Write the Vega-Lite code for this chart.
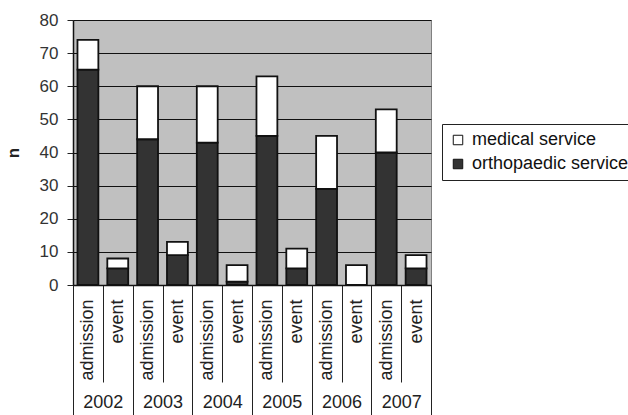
{
  "$schema": "https://vega.github.io/schema/vega-lite/v6.json",
  "width": 358,
  "height": 265,
  "autosize": {"type": "none"},
  "padding": {"left": 73, "top": 20, "right": 197, "bottom": 130},
  "background": "white",
  "config": {
    "view": {"fill": "#c0c0c0", "stroke": "#808080", "strokeWidth": 1},
    "font": "Liberation Sans"
  },
  "data": {
    "values": [
      {"category": "2002 admission", "year": "2002", "service": "orthopaedic service", "n": 65},
      {"category": "2002 admission", "year": "2002", "service": "medical service", "n": 9},
      {"category": "2002 event", "year": "2002", "service": "orthopaedic service", "n": 5},
      {"category": "2002 event", "year": "2002", "service": "medical service", "n": 3},
      {"category": "2003 admission", "year": "2003", "service": "orthopaedic service", "n": 44},
      {"category": "2003 admission", "year": "2003", "service": "medical service", "n": 16},
      {"category": "2003 event", "year": "2003", "service": "orthopaedic service", "n": 9},
      {"category": "2003 event", "year": "2003", "service": "medical service", "n": 4},
      {"category": "2004 admission", "year": "2004", "service": "orthopaedic service", "n": 43},
      {"category": "2004 admission", "year": "2004", "service": "medical service", "n": 17},
      {"category": "2004 event", "year": "2004", "service": "orthopaedic service", "n": 1},
      {"category": "2004 event", "year": "2004", "service": "medical service", "n": 5},
      {"category": "2005 admission", "year": "2005", "service": "orthopaedic service", "n": 45},
      {"category": "2005 admission", "year": "2005", "service": "medical service", "n": 18},
      {"category": "2005 event", "year": "2005", "service": "orthopaedic service", "n": 5},
      {"category": "2005 event", "year": "2005", "service": "medical service", "n": 6},
      {"category": "2006 admission", "year": "2006", "service": "orthopaedic service", "n": 29},
      {"category": "2006 admission", "year": "2006", "service": "medical service", "n": 16},
      {"category": "2006 event", "year": "2006", "service": "orthopaedic service", "n": 0},
      {"category": "2006 event", "year": "2006", "service": "medical service", "n": 6},
      {"category": "2007 admission", "year": "2007", "service": "orthopaedic service", "n": 40},
      {"category": "2007 admission", "year": "2007", "service": "medical service", "n": 13},
      {"category": "2007 event", "year": "2007", "service": "orthopaedic service", "n": 5},
      {"category": "2007 event", "year": "2007", "service": "medical service", "n": 4}
    ]
  },
  "layer": [
    {
      "mark": {"type": "bar", "width": {"band": 0.7}, "stroke": "#111111", "strokeWidth": 1.8},
      "encoding": {
        "x": {
          "field": "category", "type": "nominal", "sort": null,
          "scale": {"type": "band", "paddingInner": 0, "paddingOuter": 0},
          "axis": {
            "title": null, "orient": "bottom", "grid": false,
            "labelAngle": -90, "labelAlign": "right", "labelBaseline": "middle",
            "labelExpr": "split(datum.label, ' ')[1]",
            "tickBand": "extent", "tickSize": 97, "tickColor": "#222222", "tickWidth": 1,
            "labelPadding": -83, "labelFontSize": 18, "labelColor": "#222222",
            "labelFont": "Liberation Sans",
            "domainColor": "#111111", "domainWidth": 1.5
          }
        },
        "y": {
          "field": "n", "type": "quantitative", "stack": "zero",
          "scale": {"domain": [0, 80], "nice": false},
          "axis": {
            "values": [0, 10, 20, 30, 40, 50, 60, 70, 80],
            "title": "n", "titleFontSize": 17, "titleFontWeight": "bold", "titleColor": "#222222",
            "titlePadding": 17, "titleFont": "Liberation Sans",
            "labelFontSize": 17, "labelColor": "#333333", "labelFont": "Liberation Sans",
            "labelPadding": 9, "tickSize": 6, "tickColor": "#222222",
            "domainColor": "#111111", "domainWidth": 1.5,
            "grid": true, "gridColor": "#111111", "gridWidth": 1.2
          }
        },
        "color": {
          "field": "service", "type": "nominal",
          "scale": {"domain": ["medical service", "orthopaedic service"], "range": ["#ffffff", "#333333"]},
          "legend": {
            "title": null, "orient": "none", "legendX": 369, "legendY": 104,
            "strokeColor": "#222222", "fillColor": "#ffffff", "padding": 7,
            "symbolType": "square", "symbolSize": 90, "symbolStrokeColor": "#111111", "symbolStrokeWidth": 1,
            "labelFontSize": 18, "labelFont": "Liberation Sans", "labelColor": "#111111",
            "labelOffset": 5, "rowPadding": 6, "labelLimit": 300
          }
        },
        "order": {"field": "service", "sort": "descending"}
      }
    },
    {
      "mark": {"type": "point", "opacity": 0},
      "encoding": {
        "x": {
          "field": "year", "type": "nominal", "sort": null,
          "scale": {"type": "band", "paddingInner": 0, "paddingOuter": 0},
          "axis": {
            "title": null, "orient": "bottom", "grid": false, "domain": false,
            "labelAngle": 0, "labelAlign": "center", "labelBaseline": "middle",
            "tickBand": "extent", "tickSize": 130, "tickColor": "#222222", "tickWidth": 1,
            "labelPadding": -13, "labelFontSize": 18, "labelColor": "#222222",
            "labelFont": "Liberation Sans"
          }
        }
      }
    }
  ],
  "resolve": {"scale": {"x": "independent"}, "axis": {"x": "independent"}}
}
